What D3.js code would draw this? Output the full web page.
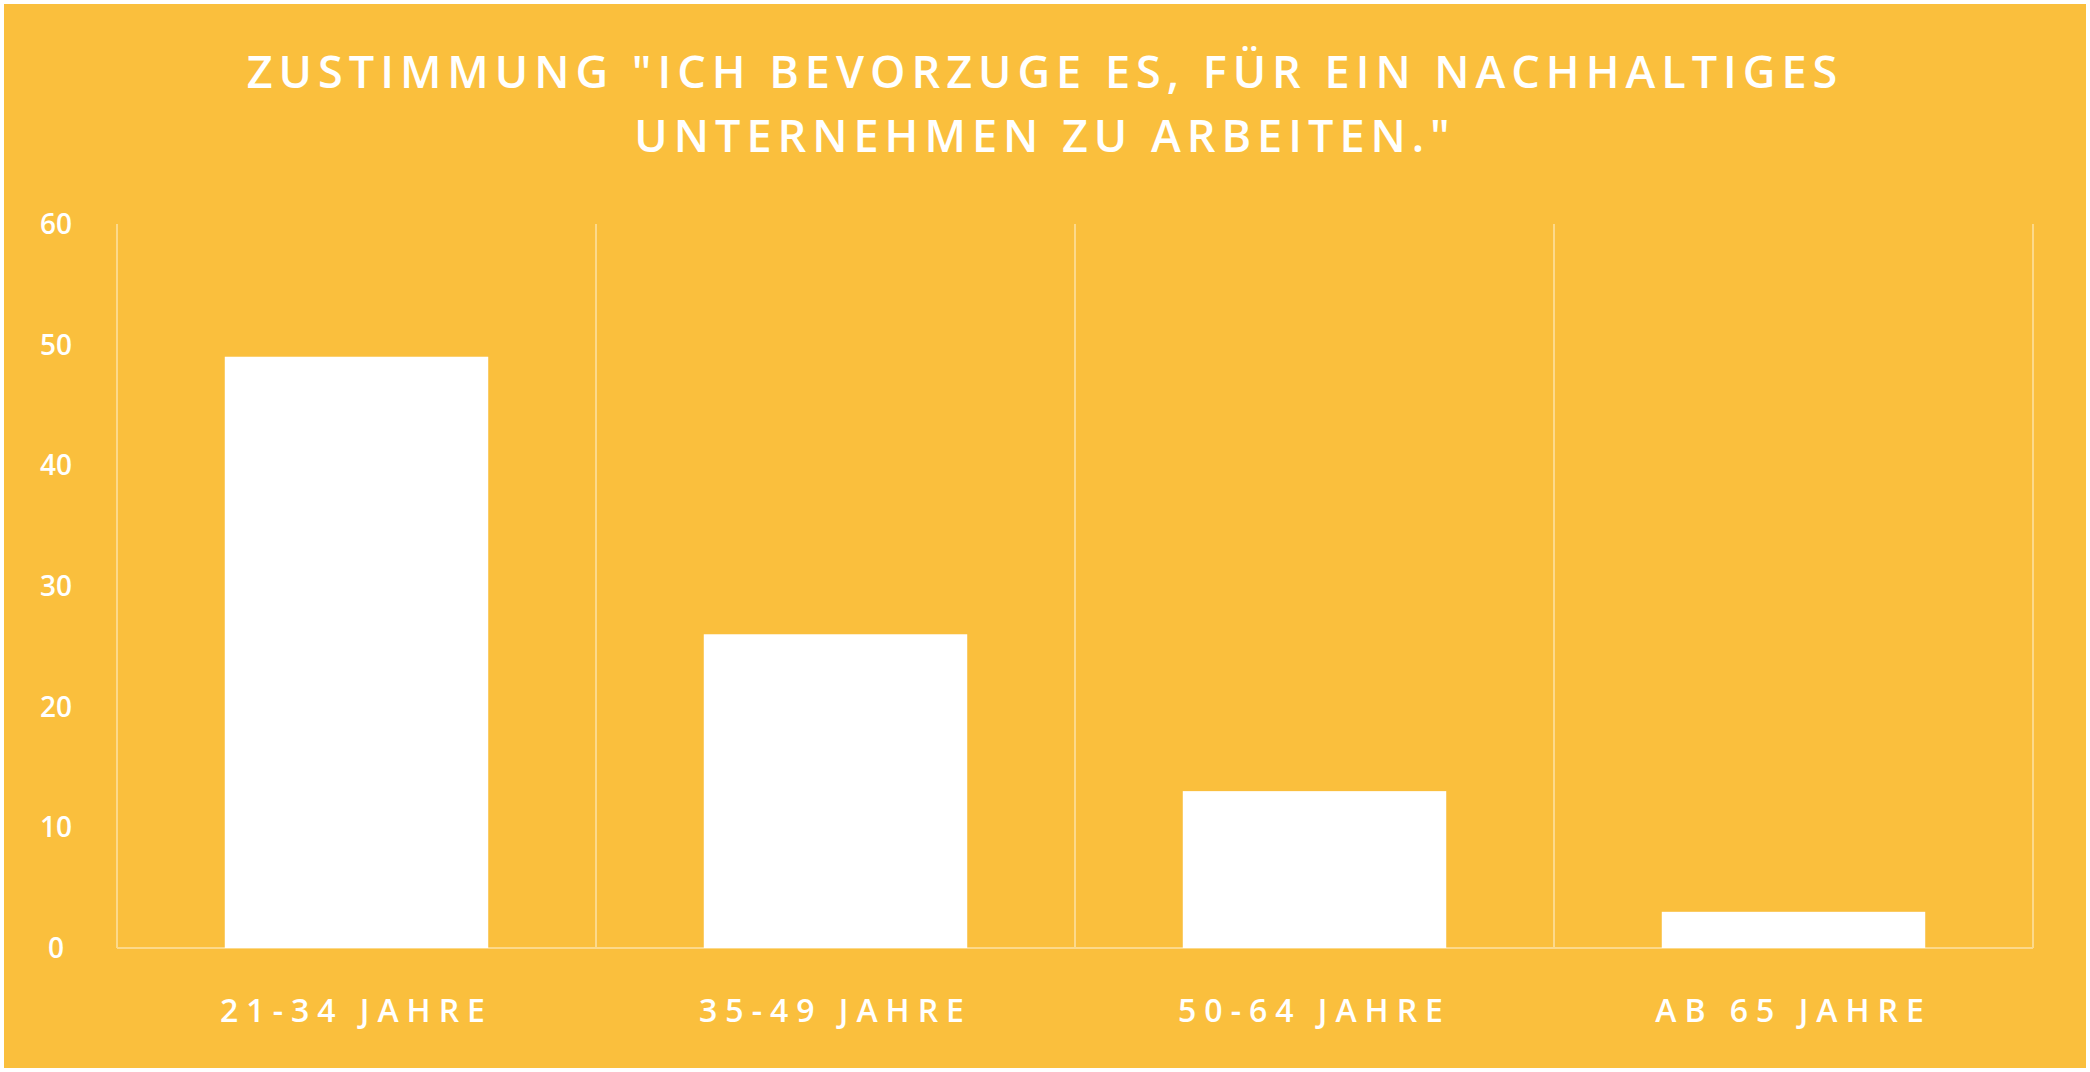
<!DOCTYPE html>
<html><head><meta charset="utf-8">
<script src="https://cdn.jsdelivr.net/npm/d3@7"></script>
<style>body{margin:0;background:#fff}svg{display:block}</style>
</head><body>
<svg id="chart"></svg>
<script>
var categories = ["21-34 JAHRE", "35-49 JAHRE", "50-64 JAHRE", "AB 65 JAHRE"];
var values = [49, 26, 13, 3];
var yTicks = [0, 10, 20, 30, 40, 50, 60];
var titleLines = ['ZUSTIMMUNG "ICH BEVORZUGE ES, FÜR EIN NACHHALTIGES', 'UNTERNEHMEN ZU ARBEITEN."'];

var W = 2090, H = 1072;
var svg = d3.select("#chart").attr("width", W).attr("height", H);
svg.append("rect").attr("x", 4).attr("y", 4).attr("width", W - 8).attr("height", H - 8).attr("fill", "#FABF3D");

var plotLeft = 117, plotRight = 2033, plotTop = 224, plotBottom = 948;
var x = d3.scaleBand().domain(categories).range([plotLeft, plotRight]).paddingInner(0).paddingOuter(0);
var y = d3.scaleLinear().domain([0, 60]).range([plotBottom, plotTop]);

// vertical separators
var seps = categories.map(function(c) { return x(c); }).concat([plotRight]);
svg.selectAll("line.sep").data(seps).enter().append("line")
  .attr("x1", function(d) { return d; }).attr("x2", function(d) { return d; })
  .attr("y1", plotTop).attr("y2", plotBottom)
  .attr("stroke", "#fcd98a").attr("stroke-width", 2);
svg.append("line").attr("x1", plotLeft).attr("x2", plotRight).attr("y1", plotBottom).attr("y2", plotBottom)
  .attr("stroke", "#fcd98a").attr("stroke-width", 2);

var bw = x.bandwidth() * 0.55;
svg.selectAll("rect.bar").data(values).enter().append("rect")
  .attr("x", function(d, i) { return x(categories[i]) + (x.bandwidth() - bw) / 2; })
  .attr("y", function(d) { return y(d); })
  .attr("width", bw)
  .attr("height", function(d) { return plotBottom - y(d); })
  .attr("fill", "#fff");

svg.selectAll("text.ytick").data(yTicks).enter().append("text")
  .attr("x", 56).attr("y", function(d) { return y(d) + 10; })
  .attr("text-anchor", "middle")
  .attr("font-family", "Open Sans").attr("font-size", "28px").attr("font-weight", 600).attr("fill", "#fff")
  .text(function(d) { return d; });

svg.selectAll("text.xlab").data(categories).enter().append("text")
  .attr("x", function(d) { return x(d) + x.bandwidth() / 2; })
  .attr("y", 1022)
  .attr("text-anchor", "middle")
  .attr("font-family", "Open Sans").attr("font-size", "32px").attr("font-weight", 600).attr("fill", "#fff")
  .style("letter-spacing", "8px")
  .text(function(d) { return d; });

svg.selectAll("text.title").data(titleLines).enter().append("text")
  .attr("x", W / 2).attr("y", function(d, i) { return 88 + i * 64; })
  .attr("text-anchor", "middle")
  .attr("font-family", "Open Sans").attr("font-size", "45px").attr("font-weight", 600).attr("fill", "#fff")
  .style("letter-spacing", "6px")
  .text(function(d) { return d; });
</script>
</body></html>
